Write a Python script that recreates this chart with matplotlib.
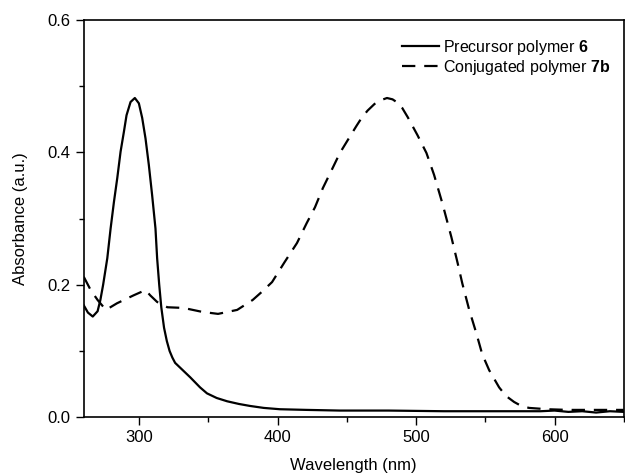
import matplotlib
matplotlib.use("Agg")
import matplotlib.pyplot as plt
from matplotlib.ticker import MultipleLocator

plt.rcParams['font.family'] = ['Liberation Sans', 'DejaVu Sans']
plt.rcParams['mathtext.fontset'] = 'custom'
plt.rcParams['mathtext.bf'] = 'Liberation Sans:bold'
plt.rcParams['mathtext.rm'] = 'Liberation Sans'

# Precursor polymer 6 (solid)
wl_6 = [260, 263, 266.5, 270, 272, 274, 277.0, 279.4, 281.8, 284.2, 286.6, 289.0, 290.9, 293.8, 296.9,
        299.8, 302.2, 304.6, 307.0, 309.4, 311.8, 313.0, 314.5, 316, 318, 320, 322, 324, 326, 330,
        337, 344, 349, 356, 363.6, 372, 380, 390, 401.7, 421, 445, 480, 520, 560, 590, 600, 610,
        620, 630, 640, 650]
abs_6 = [0.169, 0.158, 0.152, 0.160, 0.177, 0.200, 0.240, 0.285, 0.325, 0.361, 0.401, 0.431, 0.456, 0.476, 0.482,
         0.474, 0.452, 0.421, 0.381, 0.335, 0.285, 0.240, 0.200, 0.166, 0.135, 0.115, 0.100, 0.090, 0.082, 0.074,
         0.060, 0.045, 0.036, 0.029, 0.024, 0.020, 0.017, 0.014, 0.012, 0.011, 0.010, 0.010, 0.009, 0.009, 0.009, 0.010, 0.008,
         0.009, 0.007, 0.009, 0.008]

# Conjugated polymer 7b (dashed)
wl_7b = [260, 265, 270, 276, 284, 290, 296, 304.6, 308, 313, 320.4, 332, 345.6, 357, 370.8, 382, 389, 396, 405,
         414, 421, 427, 432.7, 439, 445, 452, 457, 460.7, 465, 470, 475, 479, 483, 486.6, 490, 494, 501,
         507.5, 513, 519, 525.5, 530, 533.4, 538.4, 543.5, 547.8, 552.8, 560, 565, 570.8, 576, 581.6, 595,
         610, 630, 650]
abs_7b = [0.212, 0.192, 0.177, 0.162, 0.172, 0.178, 0.184, 0.192, 0.184, 0.174, 0.166, 0.165, 0.159, 0.156, 0.162, 0.177, 0.190, 0.204, 0.234,
          0.263, 0.293, 0.317, 0.346, 0.373, 0.399, 0.423, 0.440, 0.452, 0.463, 0.473, 0.479, 0.482, 0.480, 0.475, 0.467, 0.453, 0.426,
          0.399, 0.366, 0.323, 0.272, 0.233, 0.202, 0.162, 0.127, 0.095, 0.071, 0.045, 0.032, 0.023, 0.017, 0.014, 0.012,
          0.011, 0.011, 0.011]

xlim = (260, 650)
ylim = (0.0, 0.6)
xticks = [300, 400, 500, 600]
yticks = [0.0, 0.2, 0.4, 0.6]

fig = plt.figure(figsize=(6.25, 4.73), dpi=100)
ax = fig.add_axes([0.134, 0.118, 0.864, 0.840])

ax.plot(wl_6, abs_6, color='black', lw=1.6, label=r'Precursor polymer $\mathbf{6}$')
ax.plot(wl_7b, abs_7b, color='black', lw=1.6, dashes=(6, 4), label=r'Conjugated polymer $\mathbf{7b}$')

ax.set_xlim(*xlim)
ax.set_ylim(*ylim)
ax.set_xticks(xticks)
ax.set_yticks(yticks)
ax.set_yticklabels([f'{v:.1f}' for v in yticks])
ax.xaxis.set_minor_locator(MultipleLocator(50))
ax.yaxis.set_minor_locator(MultipleLocator(0.1))
ax.tick_params(which='major', direction='out', length=6, width=1, labelsize=12)
ax.tick_params(which='minor', direction='out', length=3.5, width=1)
for s in ax.spines.values():
    s.set_linewidth(1.2)

ax.set_xlabel('Wavelength (nm)', fontsize=12, labelpad=9)
ax.set_ylabel('Absorbance (a.u.)', fontsize=12, labelpad=14)

ax.legend(loc='upper left', frameon=False, fontsize=11.5, handlelength=2.3,
          handletextpad=0.25, labelspacing=0.05, borderpad=0, borderaxespad=0,
          bbox_to_anchor=(0.589, 0.955))

fig.savefig('out.png', dpi=100)
